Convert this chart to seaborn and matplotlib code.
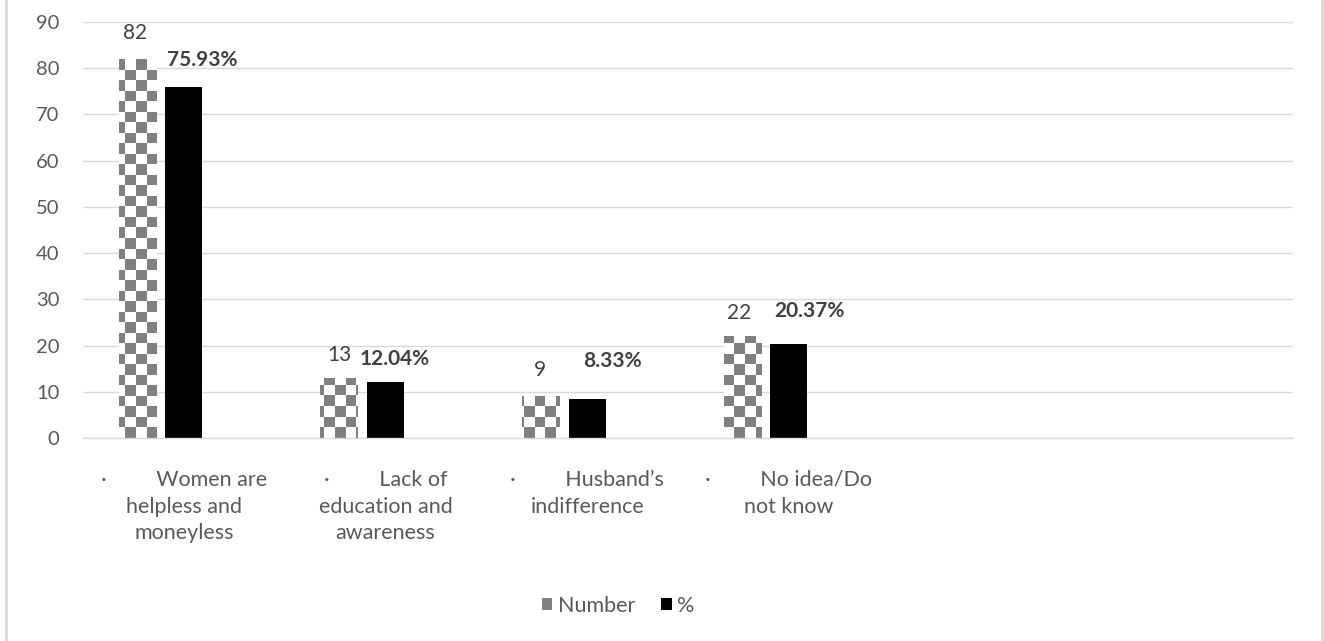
import numpy as np
import pandas as pd
import seaborn as sns
import matplotlib.pyplot as plt
from matplotlib.patches import Patch
from matplotlib.lines import Line2D
from matplotlib.colors import ListedColormap

# ---- data ----
categories = [
    "·         Women are\nhelpless and\nmoneyless",
    "·         Lack of\neducation and\nawareness",
    "·         Husband’s\nindifference",
    "·         No idea/Do\nnot know",
    "",
    " ",
]
number_values = [82, 13, 9, 22]
percent_values = [75.93, 12.04, 8.33, 20.37]
percent_labels = ["75.93%", "12.04%", "8.33%", "20.37%"]
series = ["Number", "%", "Series3"]
y_ticks = [0, 10, 20, 30, 40, 50, 60, 70, 80, 90]

# ---- styling ----
FONT = "Lato"
TEXT = "#595959"
LABEL = "#404040"
GRID = "#d9d9d9"
CHECK_GRAY = "#808080"

sns.set_theme(style="white")
plt.rcParams["font.family"] = [FONT, "DejaVu Sans"]

rows = []
for cat, n, p in zip(categories, number_values, percent_values):
    rows.append({"cat": cat, "series": "Number", "value": n})
    rows.append({"cat": cat, "series": "%", "value": p})
df = pd.DataFrame(rows)

fig = plt.figure(figsize=(13.24, 6.41), dpi=100)
ax = fig.add_axes([83 / 1324, 203 / 641, 1210 / 1324, 416 / 641])

sns.barplot(
    data=df, x="cat", y="value", hue="series",
    order=categories, hue_order=series,
    palette={"Number": CHECK_GRAY, "%": "#000000", "Series3": "#ffffff"},
    width=0.692, gap=0.2, linewidth=0, legend=False, ax=ax,
)

ax.set_xlim(-0.5, len(categories) - 0.5)
ax.set_ylim(0, 90)
ax.set_yticks(y_ticks)
ax.set_xlabel("")
ax.set_ylabel("")

# split patches by series colour
num_bars, pct_bars = [], []
for bar in ax.patches:
    h = bar.get_height()
    if h is None or np.isnan(h) or h == 0:
        continue
    if bar.get_facecolor()[0] < 0.1:
        pct_bars.append(bar)
    else:
        num_bars.append(bar)
num_bars.sort(key=lambda b: b.get_x())
pct_bars.sort(key=lambda b: b.get_x())

# checkerboard fill for the "Number" bars
cell_px = 10.5
px_per_x = 1210 / len(categories)
px_per_y = 416 / 90
cx = cell_px / px_per_x
cy = cell_px / px_per_y
nx = int(np.ceil(len(categories) / cx))
ny = int(np.ceil(90 / cy))
ii, jj = np.meshgrid(np.arange(nx), np.arange(ny))
checker = ((ii + jj) % 2).astype(float)
cmap = ListedColormap([CHECK_GRAY, "#ffffff"])
for bar in num_bars:
    im = ax.imshow(
        checker, cmap=cmap, interpolation="nearest", origin="lower",
        extent=(-0.5, -0.5 + nx * cx, 0, ny * cy), aspect="auto", zorder=2,
    )
    im.set_clip_path(bar)
    bar.set_facecolor("none")
ax.set_xlim(-0.5, len(categories) - 0.5)
ax.set_ylim(0, 90)

# value labels (offsets in pixels from the top centre of each bar)
num_offsets = [(-2, 26), (0, 23), (-1, 26), (-3, 23)]
pct_offsets = [(18, 27), (9, 23), (25, 38), (21, 33)]
for bar, v, (dx, dy) in zip(num_bars, number_values, num_offsets):
    ax.annotate(f"{v}", (bar.get_x() + bar.get_width() / 2, v),
                xytext=(dx, dy), textcoords="offset pixels",
                ha="center", va="center", fontsize=15, color=LABEL)
for bar, v, s, (dx, dy) in zip(pct_bars, percent_values, percent_labels, pct_offsets):
    ax.annotate(s, (bar.get_x() + bar.get_width() / 2, v),
                xytext=(dx, dy), textcoords="offset pixels",
                ha="center", va="center", fontsize=15, fontweight="bold", color=LABEL)

# grid and spines
ax.grid(axis="y", color=GRID, linewidth=1.0)
ax.set_axisbelow(True)
for side in ["top", "right", "left"]:
    ax.spines[side].set_visible(False)
ax.spines["bottom"].set_color(GRID)
ax.spines["bottom"].set_linewidth(1.0)
ax.tick_params(axis="y", length=0, pad=17, labelsize=14.5, labelcolor=TEXT)
ax.tick_params(axis="x", length=0, pad=23, labelsize=15.5, labelcolor=TEXT)
for lab in ax.get_xticklabels():
    lab.set_linespacing(1.42)
    lab.set_multialignment("center")

# legend
handles = [Patch(facecolor=CHECK_GRAY, edgecolor="none"),
           Patch(facecolor="#000000", edgecolor="none")]
fig.legend(handles, ["Number", "%"], loc="center", bbox_to_anchor=(618 / 1324, 1 - 606 / 641),
           ncol=2, frameon=False, fontsize=15.5, labelcolor=TEXT,
           handlelength=0.5, handleheight=0.5, handletextpad=0.25, columnspacing=1.2)

# chart frame edges
fig.add_artist(Line2D([6 / 1324, 6 / 1324], [0, 1], color=GRID, linewidth=2, transform=fig.transFigure))
fig.add_artist(Line2D([1321.5 / 1324, 1321.5 / 1324], [0, 1], color=GRID, linewidth=2, transform=fig.transFigure))

fig.savefig("out.png", dpi=100)
